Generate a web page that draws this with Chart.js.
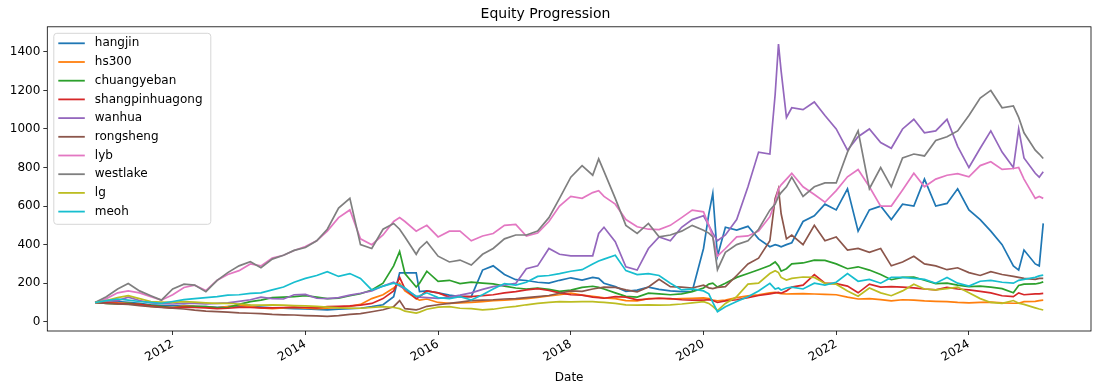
<!DOCTYPE html>
<html>
<head>
<meta charset="utf-8">
<script src="https://cdn.jsdelivr.net/npm/chart.js@4.4.1/dist/chart.umd.min.js"></script>
<style>
  html, body { margin: 0; padding: 0; background: #fff; }
  #wrap { width: 1101px; height: 391px; }
</style>
</head>
<body>
<div id="wrap"><canvas id="equityChart" width="1101" height="391"></canvas></div>
<script>
// Dates as decimal years
const dates = [
  2010.83, 2011.00, 2011.17, 2011.33, 2011.50, 2011.67, 2011.83, 2012.00, 2012.17, 2012.33,
  2012.50, 2012.67, 2012.83, 2013.00, 2013.17, 2013.33, 2013.50, 2013.67, 2013.83, 2014.00,
  2014.17, 2014.33, 2014.50, 2014.67, 2014.83, 2015.00, 2015.17, 2015.33, 2015.42, 2015.50,
  2015.67, 2015.72, 2015.83, 2016.00, 2016.17, 2016.33, 2016.50, 2016.67, 2016.83, 2017.00,
  2017.17, 2017.33, 2017.50, 2017.67, 2017.83, 2018.00, 2018.17, 2018.33, 2018.42, 2018.50,
  2018.67, 2018.83, 2019.00, 2019.17, 2019.33, 2019.50, 2019.67, 2019.83, 2020.00, 2020.08,
  2020.14, 2020.21, 2020.33, 2020.50, 2020.67, 2020.83, 2021.00, 2021.08, 2021.13, 2021.17,
  2021.25, 2021.33, 2021.50, 2021.67, 2021.83, 2022.00, 2022.17, 2022.33, 2022.50, 2022.67,
  2022.83, 2023.00, 2023.17, 2023.33, 2023.50, 2023.67, 2023.83, 2024.00, 2024.17, 2024.33,
  2024.50, 2024.67, 2024.75, 2024.83, 2025.00, 2025.06, 2025.12
];

const hangjin = [
  100, 110, 105, 100, 95, 88, 85, 82, 85, 80,
  78, 75, 78, 82, 80, 76, 72, 70, 68, 66,
  64, 62, 65, 68, 70, 78, 88, 130, 254, 254,
  254, 156, 160, 150, 138, 130, 130, 268, 290, 245,
  218, 214, 205, 200, 215, 228, 216, 230, 225, 200,
  182, 158, 164, 180, 168, 160, 156, 158, 380, 560,
  666, 340, 490, 475, 495, 430, 389, 400, 395, 389,
  400, 410, 520, 550, 610, 580, 690, 470, 580, 600,
  530, 610, 600, 740, 600, 614, 690, 580, 530, 470,
  400, 290, 268, 372, 300, 290, 510
];
const hs300 = [
  100, 102, 98, 96, 90, 80, 76, 74, 82, 80,
  76, 72, 78, 86, 78, 72, 68, 72, 74, 70,
  68, 70, 74, 80, 90, 120, 140, 175, 200, 160,
  120, 112, 118, 100, 95, 98, 100, 104, 110, 112,
  116, 120, 126, 134, 140, 148, 138, 132, 128, 124,
  120, 110, 108, 120, 122, 118, 120, 122, 124, 120,
  112, 108, 112, 125, 134, 140, 150, 152, 148, 146,
  144, 145, 146, 144, 142, 140, 128, 118, 120, 115,
  108, 114, 112, 108, 106, 104, 100, 98, 100, 102,
  98, 96, 96, 104, 106, 110, 112
];
const chuangyeban = [
  100, 95, 92, 95, 90, 85, 80, 72, 78, 80,
  78, 72, 74, 90, 104, 112, 125, 128, 130, 135,
  128, 120, 122, 135, 145, 165, 200, 290, 365, 250,
  180, 200, 262, 210, 215, 198, 205, 200, 196, 185,
  175, 170, 174, 168, 158, 164, 178, 184, 178, 170,
  150, 132, 128, 148, 145, 140, 145, 156, 175, 195,
  200, 180, 200, 230, 250, 270, 292, 310, 290, 262,
  275, 300, 305, 320, 318, 300, 275, 285, 268, 245,
  218, 230, 232, 215, 198, 200, 190, 182, 185, 180,
  172, 150, 188, 195, 196, 200, 207
];
const shangpinhuagong = [
  100, 98, 95, 92, 90, 82, 76, 72, 76, 74,
  72, 68, 70, 75, 74, 72, 72, 74, 76, 74,
  72, 78, 80, 82, 86, 95, 120, 160, 230, 170,
  120, 130, 160, 150, 128, 132, 130, 136, 140, 150,
  156, 165, 172, 162, 150, 140, 138, 128, 125, 122,
  130, 128, 114, 118, 122, 120, 114, 112, 112, 115,
  110, 100, 108, 114, 125, 136, 145, 150, 152, 148,
  160, 180, 190, 245, 200, 198, 185, 150, 195, 180,
  182, 180, 176, 170, 165, 178, 170, 165, 158, 150,
  135, 130, 150, 140, 145, 145, 147
];
const wanhua = [
  100, 108, 110, 128, 110, 98, 95, 92, 96, 95,
  92, 95, 98, 106, 114, 128, 120, 118, 140, 142,
  122, 120, 125, 138, 148, 160, 185, 205, 185, 170,
  132, 128, 125, 121, 128, 138, 150, 168, 182, 190,
  199, 275, 290, 380, 350, 342, 342, 342, 458, 490,
  415, 285, 268, 380, 440, 420, 490, 530, 550, 500,
  460, 420, 450, 530, 700, 880, 870, 1180, 1440, 1300,
  1060, 1110, 1100, 1140, 1070, 1000, 890, 960, 1000, 930,
  900, 1000, 1050, 980, 990, 1050, 910, 800, 900, 990,
  880, 800, 1000, 850, 770, 750, 778
];
const rongsheng = [
  100, 95, 92, 90, 84, 78, 74, 70, 66, 60,
  55, 52, 50, 46, 44, 42, 38, 36, 35, 32,
  30, 28, 32, 38, 42, 52, 62, 78, 110, 68,
  62, 66, 80, 88, 95, 102, 110, 112, 114, 118,
  120, 125, 130, 136, 148, 160, 158, 170, 175, 180,
  178, 165, 155, 180, 220, 182, 180, 175, 190, 176,
  172, 178, 182, 240, 300, 330, 420, 640, 690, 560,
  430, 450, 400, 500, 420, 440, 372, 380, 360, 380,
  290, 310, 340, 300, 290, 270, 280, 255, 240, 260,
  245, 235, 230, 225, 220, 225, 225
];
const lyb = [
  100, 120, 150, 160, 150, 130, 112, 140, 178, 190,
  162, 215, 245, 265, 300, 290, 330, 345, 370, 390,
  420, 470, 540, 580, 430, 400, 450, 520, 540, 520,
  470, 480, 500, 440, 470, 470, 420, 445, 458, 500,
  505, 445, 460, 520, 600, 650, 640, 670, 680, 650,
  610, 530, 493, 480, 478, 500, 540, 579, 570, 500,
  440, 340, 380, 440, 445, 470, 545, 620, 690, 710,
  740, 770, 700, 660, 620, 680, 752, 790, 700, 600,
  600, 683, 770, 700, 740, 760, 768, 752, 810, 830,
  790, 795, 800, 740, 640, 650, 640
];
const westlake = [
  100, 130, 170, 198, 160, 135, 112, 170, 195, 190,
  156, 215, 255, 290, 311, 280, 325, 345, 370, 385,
  420, 480, 590, 640, 400, 380, 480, 510, 480, 440,
  350, 380, 415, 340, 310, 320, 294, 350, 380, 430,
  450, 450, 470, 540, 640, 750, 810, 760, 845, 780,
  640, 500, 458, 510, 441, 450, 470, 500, 475, 460,
  440, 270, 360, 400, 420, 480, 579, 610, 650, 670,
  700, 750, 650, 700, 720, 720, 880, 990, 690, 800,
  700, 850, 870, 860, 940, 960, 990, 1070, 1160, 1200,
  1110, 1120, 1060, 980, 890, 870, 847
];
const lg = [
  100, 110, 125, 135, 120, 105, 102, 100, 104, 102,
  98, 95, 96, 92, 88, 86, 88, 86, 84, 82,
  80, 76, 72, 70, 70, 74, 78, 74, 68, 55,
  45, 50, 65, 76, 78, 70, 68, 62, 65, 74,
  80, 88, 95, 100, 104, 103, 104, 104, 102, 100,
  95, 88, 86, 88, 86, 88, 92, 98, 104, 95,
  80, 58, 95, 130, 195, 200, 250, 265, 255, 230,
  216, 225, 232, 230, 199, 195, 160, 132, 175, 150,
  135, 160, 195, 170, 165, 172, 180, 150, 120, 100,
  95, 110, 96, 90, 72, 66, 61
];
const meoh = [
  100, 110, 118, 112, 105, 100, 96, 105, 115, 120,
  125, 130, 138, 140, 147, 150, 165, 180, 205, 225,
  240, 260, 235, 250, 225, 165, 185, 200, 190, 175,
  130, 135, 150, 125, 120, 130, 113, 140, 170, 198,
  190, 205, 235, 240, 250, 262, 270, 300, 315, 325,
  345, 265, 245, 250, 240, 200, 165, 170, 160, 145,
  100, 52, 78, 105, 130, 160, 199, 170, 175, 165,
  175, 180, 170, 200, 190, 205, 250, 210, 220, 200,
  230, 230, 225, 220, 200, 230, 200, 185, 210, 215,
  205, 200, 215, 220, 230, 238, 242
];

const seriesNames = ['hangjin', 'hs300', 'chuangyeban', 'shangpinhuagong', 'wanhua',
  'rongsheng', 'lyb', 'westlake', 'lg', 'meoh'];
const seriesValues = [hangjin, hs300, chuangyeban, shangpinhuagong, wanhua,
  rongsheng, lyb, westlake, lg, meoh];
const seriesColors = ['#1f77b4', '#ff7f0e', '#2ca02c', '#d62728', '#9467bd',
  '#8c564b', '#e377c2', '#7f7f7f', '#bcbd22', '#17becf'];

const yearTicks = [2012, 2014, 2016, 2018, 2020, 2022, 2024];
const valueTicks = [0, 200, 400, 600, 800, 1000, 1200, 1400];

const FONT = 'DejaVu Sans';

// Frame around the plot area, like matplotlib's spines
const frameBox = {
  id: 'frameBox',
  afterDraw(chart) {
    const { ctx, chartArea: a } = chart;
    ctx.save();
    ctx.strokeStyle = '#000';
    ctx.lineWidth = 0.8;
    ctx.strokeRect(a.left, a.top, a.right - a.left, a.bottom - a.top);
    ctx.restore();
  }
};

// Legend box in the upper left of the plot
const legendBox = {
  id: 'legendBox',
  afterDraw(chart) {
    const ctx = chart.ctx;
    const a = chart.chartArea;
    const x0 = a.left + 6.5, y0 = a.top + 6.5;
    const w = 157, h = 191, rowH = 18.7;
    ctx.save();
    ctx.fillStyle = 'rgba(255,255,255,0.8)';
    ctx.strokeStyle = '#d6d6d6';
    ctx.lineWidth = 1;
    ctx.beginPath();
    ctx.roundRect(x0, y0, w, h, 3);
    ctx.fill();
    ctx.stroke();
    ctx.font = '12px "' + FONT + '"';
    ctx.textBaseline = 'middle';
    ctx.fillStyle = '#000';
    chart.data.datasets.forEach((ds, i) => {
      const y = y0 + 10 + i * rowH;
      ctx.strokeStyle = ds.borderColor;
      ctx.lineWidth = 1.8;
      ctx.beginPath();
      ctx.moveTo(x0 + 4.5, y);
      ctx.lineTo(x0 + 31, y);
      ctx.stroke();
      ctx.fillStyle = '#000';
      ctx.fillText(ds.label, x0 + 41, y);
    });
    ctx.restore();
  }
};

const datasets = seriesNames.map((name, i) => ({
  label: name,
  data: dates.map((d, j) => ({ x: d, y: seriesValues[i][j] })),
  borderColor: seriesColors[i],
  backgroundColor: seriesColors[i],
  borderWidth: 1.7,
  pointRadius: 0,
  tension: 0,
  order: seriesNames.length - i
}));

new Chart(document.getElementById('equityChart'), {
  type: 'line',
  data: { datasets: datasets },
  options: {
    responsive: false,
    animation: false,
    layout: { padding: { top: 0, right: 10, left: 0, bottom: 0 } },
    plugins: {
      legend: { display: false },
      tooltip: { enabled: false },
      title: {
        display: true,
        text: 'Equity Progression',
        color: '#000',
        font: { family: FONT, size: 14, weight: 'normal' },
        padding: { top: 6, bottom: 4 }
      }
    },
    scales: {
      x: {
        type: 'linear',
        min: 2010.11,
        max: 2025.84,
        afterBuildTicks: (scale) => { scale.ticks = yearTicks.map(v => ({ value: v })); },
        afterFit: (scale) => { scale.height = 60; },
        grid: { display: true, drawOnChartArea: false, drawTicks: true, tickLength: 4, color: '#000', lineWidth: 0.8 },
        border: { display: false },
        ticks: {
          color: '#000',
          font: { family: FONT, size: 12 },
          minRotation: 30,
          maxRotation: 30,
          padding: 2,
          callback: (v) => String(v)
        },
        title: {
          display: true,
          text: 'Date',
          color: '#000',
          font: { family: FONT, size: 12 },
          padding: { top: 0, bottom: 6 }
        }
      },
      y: {
        min: -48,
        max: 1530,
        afterBuildTicks: (scale) => { scale.ticks = valueTicks.map(v => ({ value: v })); },
        afterFit: (scale) => { scale.width = 47.3; },
        grid: { display: true, drawOnChartArea: false, drawTicks: true, tickLength: 4, color: '#000', lineWidth: 0.8 },
        border: { display: false },
        ticks: {
          color: '#000',
          font: { family: FONT, size: 12 },
          padding: 3,
          callback: (v) => String(v)
        }
      }
    }
  },
  plugins: [frameBox, legendBox]
});
</script>
</body>
</html>
